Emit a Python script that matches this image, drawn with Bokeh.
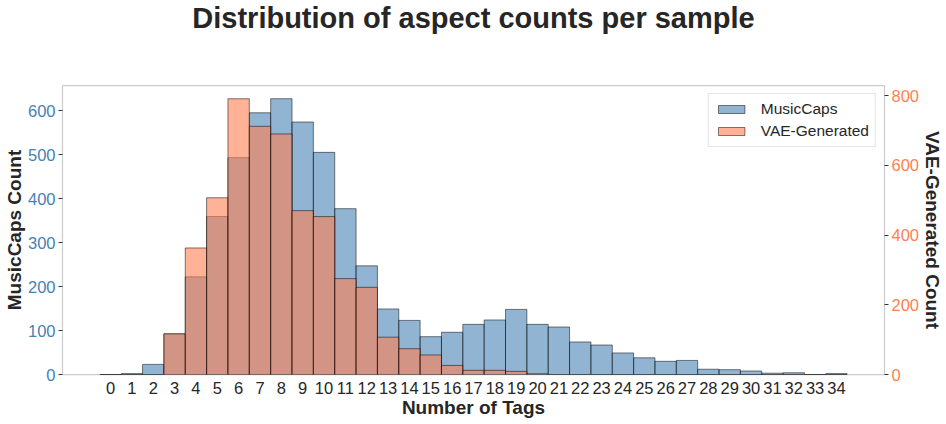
from bokeh.plotting import figure
from bokeh.models import Range1d, LinearAxis, FixedTicker, Legend, LegendItem, ColumnDataSource
from bokeh.embed import file_html
from bokeh.resources import INLINE

# ---- data ----
tags = list(range(35))
musiccaps_counts = [0, 2, 23, 92, 222, 359, 493, 595, 627, 574, 505, 377, 247, 149, 123, 86,
                    96, 114, 124, 148, 114, 108, 74, 67, 49, 38, 30, 32, 12, 11, 8, 3, 4, 0, 2]
vae_counts = [0, 0, 0, 117, 363, 507, 791, 712, 690, 470, 453, 275, 250, 107, 74, 56,
              26, 12, 12, 9, 2, 0, 0, 0, 0, 0, 0, 0, 0, 0, 0, 0, 0, 0, 0]
x_ticks = list(range(35))
left_ticks = [0, 100, 200, 300, 400, 500, 600]
right_ticks = [0, 200, 400, 600, 800]
title_text = "Distribution of aspect counts per sample"

FONT = "Liberation Sans"
BLUE = "#4682b4"
CORAL = "#ff7f50"
TXT = "#262626"

src = ColumnDataSource(dict(x=tags, mc=musiccaps_counts, vae=vae_counts))

p = figure(width=946, height=424, output_backend="svg", toolbar_location=None,
           x_range=Range1d(-2.25, 36.25), y_range=Range1d(0, 657),
           min_border_left=62, min_border_right=62, min_border_top=85, min_border_bottom=50)
p.extra_y_ranges = {"vae": Range1d(0, 829)}

# title: a trailing blank line keeps it high above the frame
p.title.text = title_text + "\n "
p.title.align = "center"
p.title.text_font = FONT
p.title.text_font_size = "29px"
p.title.text_font_style = "bold"
p.title.text_color = TXT
p.title.text_line_height = 1.6
p.title.standoff = 0

p.xgrid.visible = False
p.ygrid.visible = False
p.outline_line_color = "#cccccc"
p.outline_line_width = 1.25
p.background_fill_color = "white"
p.border_fill_color = "white"

r_mc = p.vbar(x="x", top="mc", width=1.0, source=src,
              fill_color=BLUE, fill_alpha=0.6, line_color="black", line_alpha=0.5, line_width=1)
r_vae = p.vbar(x="x", top="vae", width=1.0, source=src, y_range_name="vae",
               fill_color=CORAL, fill_alpha=0.6, line_color="black", line_alpha=0.5, line_width=1)

# x axis
xa = p.xaxis[0]
xa.ticker = FixedTicker(ticks=x_ticks)
xa.axis_label = "Number of Tags"
xa.axis_line_color = None
xa.major_tick_out = 0
xa.major_tick_in = 0
xa.minor_tick_out = 0
xa.minor_tick_in = 0
xa.major_label_standoff = 7
xa.axis_label_standoff = 0
xa.major_label_text_font = FONT
xa.major_label_text_font_size = "16.5px"
xa.major_label_text_color = TXT
xa.axis_label_text_font = FONT
xa.axis_label_text_font_size = "19px"
xa.axis_label_text_font_style = "bold"
xa.axis_label_text_color = TXT

# left axis
ya = p.yaxis[0]
ya.ticker = FixedTicker(ticks=left_ticks)
ya.axis_label = "MusicCaps Count"
ya.axis_line_color = None
ya.major_tick_out = 4
ya.major_tick_in = 0
ya.minor_tick_out = 0
ya.minor_tick_in = 0
ya.major_tick_line_color = "#333333"
ya.major_label_standoff = 3
ya.axis_label_standoff = 0
ya.major_label_text_font = FONT
ya.major_label_text_font_size = "16.5px"
ya.major_label_text_color = BLUE
ya.axis_label_text_font = FONT
ya.axis_label_text_font_size = "19px"
ya.axis_label_text_font_style = "bold"
ya.axis_label_text_color = TXT

# right axis
yr = LinearAxis(y_range_name="vae", ticker=FixedTicker(ticks=right_ticks))
yr.axis_label = "VAE-Generated Count"
yr.axis_line_color = None
yr.major_tick_out = 4
yr.major_tick_in = 0
yr.minor_tick_out = 0
yr.minor_tick_in = 0
yr.major_tick_line_color = "#333333"
yr.major_label_standoff = 3
yr.axis_label_standoff = 0
yr.major_label_text_font = FONT
yr.major_label_text_font_size = "16.5px"
yr.major_label_text_color = CORAL
yr.axis_label_text_font = FONT
yr.axis_label_text_font_size = "19px"
yr.axis_label_text_font_style = "bold"
yr.axis_label_text_color = TXT
p.add_layout(yr, "right")

legend = Legend(items=[LegendItem(label="MusicCaps", renderers=[r_mc]),
                       LegendItem(label="VAE-Generated", renderers=[r_vae])],
                location="top_right")
legend.margin = 8
legend.padding = 6
legend.spacing = 4
legend.glyph_width = 33
legend.glyph_height = 10
legend.label_height = 16
legend.label_standoff = 13
legend.label_text_font = FONT
legend.label_text_font_size = "15.5px"
legend.label_text_color = TXT
legend.border_line_color = "#cccccc"
legend.border_line_width = 1
legend.background_fill_color = "white"
legend.background_fill_alpha = 0.8
p.add_layout(legend)

open("out.html", "w").write(file_html(p, INLINE))
